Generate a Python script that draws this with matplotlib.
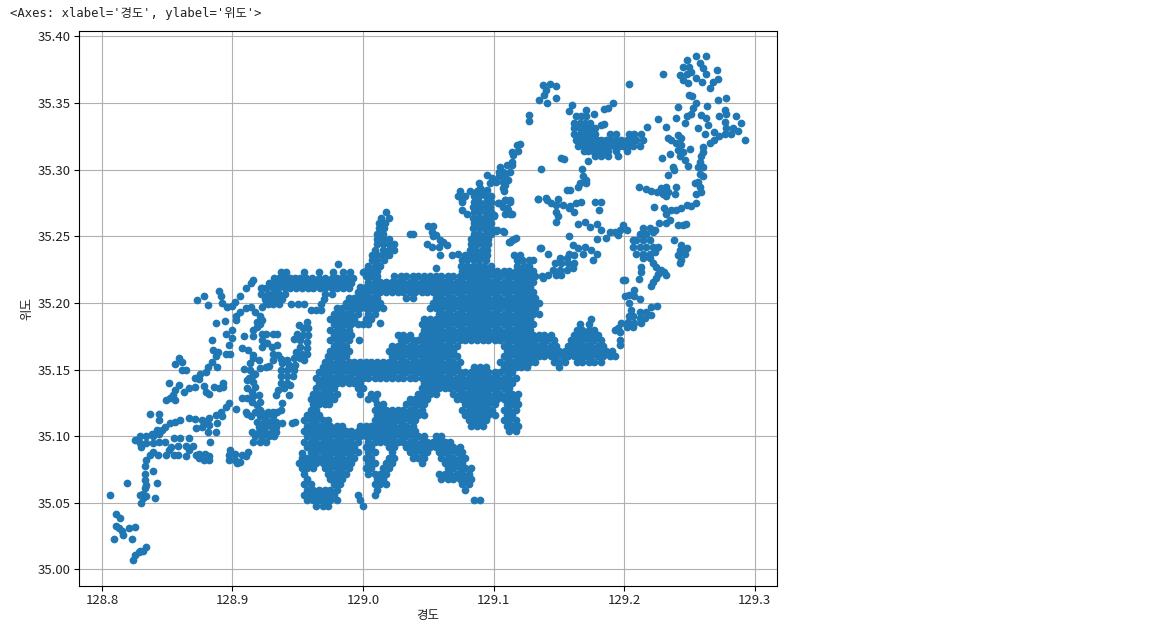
import matplotlib
matplotlib.use("Agg")
import matplotlib.pyplot as plt

# longitudes are thousandths of a degree above 128, latitudes thousandths above 35
main_lat = [284, 280, 276, 272, 268, 264, 260, 256, 252, 248, 244, 240, 236, 232, 228, 224, 220, 216, 212, 208]
main_lon = [
    [1074, 1082, 1087, 1092],
    [1073, 1078, 1085, 1089, 1094, 1098],
    [1076, 1085, 1089, 1094, 1098],
    [1084, 1089, 1093, 1097],
    [1018, 1085, 1089, 1094, 1098],
    [1014, 1020, 1084, 1089, 1093, 1097],
    [1012, 1017, 1085, 1089, 1094, 1098],
    [1012, 1016, 1084, 1089, 1093, 1097],
    [1011, 1015, 1085, 1089, 1094, 1098],
    [1011, 1015, 1020, 1083, 1087, 1092, 1096],
    [1011, 1015, 1020, 1024, 1083, 1087, 1092, 1096],
    [1009, 1015, 1020, 1024, 1082, 1086, 1091, 1095],
    [1007, 1011, 1015, 1020, 1078, 1082, 1087, 1091, 1095, 1116, 1120],
    [1007, 1011, 1016, 1076, 1080, 1085, 1089, 1094, 1118, 1122, 1127],
    [1004, 1009, 1013, 1075, 1080, 1084, 1089, 1093, 1098, 1118, 1123, 1127],
    [1002, 1006, 1011, 1076, 1081, 1085, 1090, 1094, 1099, 1103, 1108, 1112, 1117, 1121, 1126, 1130],
    [1002, 1006, 1011, 1024, 1029, 1033, 1038, 1042, 1047, 1051, 1056, 1060, 1065, 1069, 1074, 1078, 1083, 1087, 1092, 1096, 1101, 1105, 1110, 1114, 1119, 1123, 1128, 1132, 1137],
    [1004, 1009, 1013, 1018, 1022, 1027, 1031, 1036, 1040, 1045, 1049, 1054, 1058, 1063, 1067, 1072, 1076, 1081, 1085, 1090, 1094, 1099, 1103, 1108, 1112, 1117, 1121, 1126, 1130],
    [998, 1002, 1006, 1011, 1015, 1020, 1024, 1029, 1033, 1038, 1042, 1047, 1051, 1056, 1060, 1065, 1069, 1074, 1078, 1083, 1087, 1092, 1096, 1101, 1105, 1110, 1114, 1119, 1123, 1128],
    [996, 1000, 1004, 1009, 1013, 1018, 1022, 1027, 1031, 1036, 1040, 1045, 1049, 1054, 1058, 1063, 1067, 1072, 1076, 1081, 1085, 1090, 1094, 1099, 1103, 1108, 1112, 1117, 1121, 1126, 1130],
]

body_lat = [204, 200, 196, 192, 188, 184, 180, 176, 172, 168, 164, 160, 156, 152, 148, 144, 140, 136, 132, 128, 124, 120, 116, 112]
body_lon = [
    [989, 993, 998, 1002, 1006, 1011, 1033, 1038, 1056, 1060, 1065, 1069, 1074, 1078, 1083, 1087, 1092, 1096, 1101, 1105, 1110, 1114, 1119, 1123, 1128, 1132],
    [987, 991, 996, 1000, 1004, 1009, 1013, 1054, 1058, 1063, 1067, 1072, 1076, 1081, 1085, 1090, 1094, 1099, 1103, 1108, 1112, 1117, 1121, 1126, 1130, 1135],
    [980, 984, 989, 993, 998, 1002, 1006, 1011, 1015, 1051, 1056, 1060, 1065, 1069, 1074, 1078, 1083, 1087, 1092, 1096, 1101, 1105, 1110, 1114, 1119, 1123, 1128, 1132],
    [978, 982, 987, 991, 996, 1004, 1009, 1058, 1063, 1067, 1072, 1076, 1081, 1085, 1090, 1094, 1099, 1103, 1108, 1112, 1117, 1121, 1126, 1130, 1135],
    [975, 980, 984, 989, 993, 1002, 1006, 1047, 1051, 1056, 1060, 1065, 1069, 1074, 1078, 1083, 1087, 1092, 1096, 1101, 1105, 1110, 1114, 1119, 1123, 1128],
    [978, 982, 987, 991, 996, 1000, 1004, 1045, 1049, 1054, 1058, 1063, 1067, 1072, 1076, 1081, 1085, 1090, 1094, 1099, 1103, 1108, 1112, 1117, 1121, 1126, 1130],
    [975, 980, 984, 989, 1047, 1051, 1056, 1060, 1065, 1069, 1074, 1078, 1083, 1087, 1092, 1096, 1101, 1105, 1110, 1114, 1119, 1123, 1128],
    [978, 982, 987, 991, 1027, 1031, 1036, 1045, 1049, 1054, 1058, 1063, 1067, 1072, 1076, 1081, 1085, 1090, 1094, 1099, 1103, 1108, 1112, 1117, 1121, 1126, 1130, 1135, 1139, 1144, 1162, 1166, 1171, 1175, 1180],
    [975, 980, 984, 989, 1029, 1033, 1038, 1042, 1047, 1051, 1056, 1060, 1065, 1069, 1074, 1078, 1083, 1087, 1092, 1096, 1101, 1105, 1110, 1114, 1119, 1123, 1128, 1132, 1137, 1141, 1146, 1159, 1164, 1168, 1173, 1177, 1182],
    [978, 982, 987, 1022, 1027, 1031, 1036, 1040, 1045, 1049, 1054, 1058, 1063, 1067, 1072, 1108, 1112, 1117, 1121, 1126, 1130, 1135, 1139, 1144, 1148, 1157, 1162, 1166, 1171, 1175, 1180, 1184],
    [975, 980, 984, 989, 1020, 1024, 1029, 1033, 1038, 1042, 1047, 1051, 1056, 1060, 1065, 1069, 1110, 1114, 1119, 1123, 1128, 1132, 1137, 1141, 1146, 1150, 1155, 1159, 1164, 1168, 1173, 1177, 1182, 1186, 1191],
    [973, 978, 982, 987, 1022, 1027, 1031, 1036, 1040, 1045, 1049, 1054, 1058, 1063, 1067, 1072, 1108, 1112, 1117, 1121, 1126, 1130, 1135, 1139, 1144, 1148, 1153, 1157, 1162, 1166, 1171, 1175, 1180, 1184, 1189, 1193],
    [971, 975, 980, 984, 989, 993, 998, 1002, 1006, 1011, 1015, 1020, 1024, 1029, 1033, 1038, 1042, 1047, 1051, 1056, 1060, 1065, 1069, 1074, 1105, 1110, 1114, 1119, 1123, 1128, 1132, 1146, 1150, 1155, 1164, 1168, 1173, 1177, 1182],
    [969, 973, 978, 982, 987, 991, 996, 1000, 1004, 1009, 1013, 1018, 1022, 1027, 1031, 1036, 1040, 1045, 1049, 1054, 1058, 1063, 1067, 1072, 1085, 1090, 1094, 1108, 1112, 1117, 1121, 1126, 1150],
    [966, 971, 975, 980, 984, 989, 993, 998, 1002, 1006, 1011, 1015, 1020, 1024, 1029, 1033, 1038, 1042, 1047, 1051, 1056, 1060, 1065, 1069, 1074, 1078, 1083, 1087, 1092, 1096, 1101, 1105, 1110, 1114],
    [964, 969, 973, 978, 982, 987, 991, 996, 1000, 1004, 1009, 1013, 1018, 1022, 1027, 1031, 1036, 1040, 1045, 1049, 1054, 1058, 1063, 1067, 1072, 1076, 1081, 1085, 1090, 1094, 1099, 1103, 1108, 1112, 1117],
    [966, 971, 975, 980, 984, 989, 993, 998, 1047, 1051, 1056, 1060, 1065, 1069, 1074, 1078, 1083, 1087, 1092, 1096, 1101, 1105, 1110, 1114],
    [964, 969, 973, 978, 996, 1000, 1045, 1049, 1054, 1058, 1063, 1067, 1072, 1076, 1081, 1085, 1090, 1094, 1099, 1103, 1108, 1112],
    [962, 966, 971, 975, 980, 998, 1006, 1011, 1042, 1047, 1051, 1056, 1069, 1074, 1078, 1083, 1087, 1092, 1096, 1101, 1105, 1110, 1114, 1119],
    [960, 964, 969, 973, 978, 1004, 1009, 1036, 1040, 1045, 1049, 1072, 1076, 1081, 1085, 1090, 1094, 1099, 1103, 1108, 1112, 1117],
    [962, 966, 971, 974, 1011, 1015, 1033, 1038, 1042, 1047, 1078, 1083, 1087, 1092, 1096, 1101, 1110, 1114, 1119],
    [960, 964, 1009, 1013, 1018, 1022, 1027, 1031, 1036, 1040, 1045, 1076, 1081, 1085, 1090, 1094, 1099, 1108, 1112, 1117],
    [957, 962, 966, 1011, 1015, 1020, 1024, 1029, 1033, 1038, 1042, 1047, 1078, 1083, 1087, 1092, 1096, 1101, 1110, 1114],
    [955, 960, 964, 969, 973, 1009, 1013, 1018, 1022, 1027, 1031, 1036, 1040, 1081, 1085, 1090, 1094, 1108, 1112, 1117],
]

south_lat = [108, 104, 100, 96, 92, 88, 84, 80, 76, 72, 68, 64, 60, 56, 52, 48]
south_lon = [
    [957, 962, 966, 971, 975, 980, 984, 998, 1002, 1006, 1011, 1015, 1020, 1024, 1029, 1033, 1038, 1083, 1087, 1092, 1110, 1114, 1119],
    [955, 960, 964, 969, 973, 978, 982, 987, 991, 996, 1000, 1004, 1009, 1013, 1018, 1022, 1027, 1031, 1036, 1040, 1112, 1117],
    [957, 962, 966, 971, 975, 980, 984, 989, 993, 998, 1002, 1006, 1011, 1015, 1020, 1024, 1029, 1033, 1038, 1042, 1047, 1056, 1060],
    [955, 960, 964, 969, 973, 978, 982, 987, 991, 996, 1004, 1009, 1013, 1018, 1022, 1027, 1031, 1036, 1040, 1045, 1049, 1054, 1058, 1063, 1067],
    [957, 962, 966, 971, 975, 980, 984, 989, 993, 1002, 1006, 1020, 1024, 1033, 1038, 1042, 1047, 1051, 1056, 1060, 1065, 1069, 1074],
    [960, 964, 969, 973, 978, 982, 987, 991, 996, 1004, 1009, 1022, 1036, 1040, 1045, 1049, 1058, 1063, 1067, 1072, 1076],
    [953, 957, 962, 966, 971, 975, 980, 984, 989, 993, 1002, 1006, 1020, 1024, 1038, 1042, 1047, 1060, 1065, 1069, 1074, 1078],
    [951, 955, 960, 964, 969, 973, 978, 982, 987, 991, 1004, 1009, 1018, 1022, 1045, 1063, 1067, 1072, 1076],
    [953, 957, 962, 971, 975, 980, 984, 989, 1002, 1006, 1015, 1020, 1065, 1069, 1074, 1078, 1083],
    [955, 973, 978, 982, 987, 1004, 1009, 1013, 1018, 1058, 1063, 1067, 1072, 1076, 1081],
    [957, 975, 980, 984, 1011, 1015, 1060, 1065, 1069, 1074, 1078, 1083],
    [955, 960, 978, 982, 1009, 1013, 1018, 1076, 1081],
    [957, 962, 966, 971, 975, 980, 1011, 1078],
    [955, 960, 964, 969, 973, 978, 996, 1009],
    [957, 962, 966, 971, 975, 980, 998, 1085, 1090],
    [964, 969, 973, 1000],
]

band_lat = [223, 219, 215, 211, 207, 203, 199, 195]
band_lon = [
    [937, 941, 955, 966, 977, 985, 990, 1000],
    [932, 936, 940, 944, 948, 952, 956, 961, 966, 971, 976, 980, 984, 988, 992],
    [928, 933, 937, 942, 946, 951, 955, 960, 964, 969, 973, 978, 982, 987, 991],
    [922, 926, 931, 935, 940, 944, 949, 953, 958, 962, 967, 971, 976, 980, 985, 989],
    [922, 927, 931, 936, 940, 971, 976],
    [925, 930, 934, 938, 970],
    [927, 931, 936, 945, 950, 955, 968],
    [960, 964, 968],
]

sw_points = [(806, 56), (810.5, 42), (814, 39), (811, 33), (813, 31), (815, 28.5), (816, 26), (821, 31.5), (825, 32),
             (809.5, 23), (823, 22.5), (834, 16.5), (831.5, 14), (828, 13), (825, 11), (824, 7), (829, 14),
             (834, 82), (833, 78), (839, 74), (833, 72), (833, 67), (834, 63.5), (819, 65), (842, 65), (833, 61),
             (831.5, 57), (829, 56), (834, 55), (830, 50), (841, 54), (831.5, 53.5)]

west_points = [(837, 117), (844, 117), (844, 112), (838, 102), (842, 105), (846, 105), (848, 107), (852, 110), (856, 111),
               (860, 112), (867, 113.5), (871, 113), (877, 112), (882, 113.5), (887, 116), (891, 118.5), (895, 122),
               (897, 125), (892, 115), (888, 110), (882, 108.5), (877, 107), (881, 103), (887, 103.5), (879, 111),
               (872, 106), (883, 96), (903, 120.5), (825, 97), (829, 100), (834, 100), (839, 100), (844, 102), (829, 95),
               (834, 95), (839, 95), (844, 96), (848, 96), (839, 88), (843, 86), (830, 92), (837, 86), (849, 86),
               (853, 92), (855, 98.5), (860, 98.5), (867, 98.5), (858.5, 93), (864, 93), (870, 93), (855, 86),
               (858.5, 86), (864, 85), (851, 90), (867, 90), (874, 87), (879, 87), (882, 85), (874, 83.5), (878, 82),
               (882, 82), (872, 86), (898, 90), (902, 87), (897, 86), (897, 82), (902, 82), (906, 81), (910, 85),
               (912, 88), (907, 86), (903.5, 80)]

mid_points = [(916, 96), (921, 96), (926, 96), (917, 100), (922.5, 100), (928, 100), (932, 100), (915, 103.5), (920, 103.5),
              (925, 103.5), (930, 103.5), (933, 103.5), (920, 107), (925, 107), (930, 107), (933, 107), (919, 111),
              (924, 111), (929, 111), (933, 111), (921, 115), (926, 115), (931, 115), (917, 118.5), (922, 118.5),
              (927, 118.5), (931, 118.5), (911, 117), (914, 115), (910, 118), (907, 129), (911, 128.5), (915, 126),
              (919, 123.5), (921, 120), (938, 125), (937, 120), (934, 118.5), (938, 110), (945.5, 110), (948, 110.5),
              (911, 142), (916, 141), (917, 137), (911, 136), (915, 133.5), (920, 131), (916, 130), (921, 126),
              (916, 146), (913, 144), (908.5, 150.5), (913.5, 150), (921, 151), (926, 152), (928, 153), (917, 147),
              (920, 157), (913.5, 155), (916, 159), (912, 165), (907, 166), (916, 161), (908.5, 175), (916, 175),
              (919, 182), (922.5, 187), (921, 184), (916, 180), (903, 187), (922.5, 177), (922.5, 172), (922.5, 167),
              (926, 177), (931, 177), (934, 177), (926.5, 170), (930, 167), (934, 168.5), (931, 162), (931, 157), (935, 161),
              (957, 186), (951, 183.5), (954, 181), (958, 181), (949.5, 177), (954, 176), (958, 176), (947, 173), (952, 172),
              (957, 171), (952, 167), (957, 166), (948.5, 163.5), (953.5, 162), (957, 162), (947, 158.5), (952, 158.5),
              (942, 157), (937, 158), (938, 155), (943, 153.5), (948, 153.5), (937, 150), (942, 150), (947, 150), (937, 145),
              (942, 145), (946, 145), (937, 140), (942, 140), (934.5, 135), (939.5, 136), (944, 138.5), (943, 131),
              (933, 131), (954.6, 157), (953, 87.5)]

strand_points = [(895, 177), (894, 186.5), (887, 185), (884, 172), (899.5, 180), (899.5, 173.5), (897, 168.5), (885, 165),
                 (889, 163.5), (895, 162), (898, 162), (887, 160), (884, 156), (881.5, 152), (888, 152), (880, 148.5),
                 (875, 147), (871, 144), (874, 143), (859, 159), (861, 156), (856, 154), (861, 150), (864, 150), (851, 140),
                 (859, 138.5), (856, 135), (854.6, 131), (852, 128.5), (849, 127), (856, 127), (863, 133.5), (867, 136),
                 (871, 137), (878, 138), (880, 133.5), (882, 132), (886, 137), (890, 136), (893, 140), (893, 137),
                 (873, 202), (878, 205), (881, 198.5), (890, 209), (891, 205), (892, 200), (896, 197), (899.5, 198),
                 (902, 201), (906, 205), (910, 211), (914, 215), (916, 217), (922.5, 211), (906, 193.5), (910, 196),
                 (914, 197), (917, 193.5), (922.5, 197), (926, 200), (929, 205), (931.5, 207), (902.5, 190), (921, 190),
                 (919, 186), (981, 229)]

north_points = [(1013, 185), (997, 172), (1036, 251.5), (1038, 252), (1050, 258), (1054, 258), (1052.5, 253.5), (1056, 251),
                (1054, 250), (1059, 247), (1061.5, 246), (1064, 243.5), (1049, 244), (1052.5, 242), (1058, 242), (1059, 236),
                (1068, 236), (1073, 237), (1056, 226.5), (1075.6, 277), (1075.6, 270), (1079.5, 267), (1100, 266), (1100, 255),
                (1102.5, 255), (1107.7, 253.5), (1107.7, 284), (1104, 275), (1109, 277), (1113, 276), (1110, 271), (1113, 267),
                (1113, 246), (1117, 248.5), (1134, 278), (1141, 277), (1136, 241), (1142, 237),
                (1120, 319), (1118, 318.5), (1114, 313.5), (1119, 314), (1115, 311), (1114, 306), (1110, 303.5), (1114, 303.5),
                (1105, 302), (1104, 298.5), (1107, 298.5), (1112.5, 298.5), (1104, 295), (1109, 295), (1102, 291), (1107, 291),
                (1111, 292), (1107, 286), (1109, 288.5), (1095, 296), (1089, 290), (1089.5, 286), (1097, 290), (1095, 285),
                (1098.5, 293.5), (1103.6, 275), (1109, 277), (1112.5, 277), (1107.4, 272), (1111, 270), (1114, 267),
                (1108.7, 267), (1100, 265.5), (1102, 254), (1107, 254), (1114, 247), (1116, 248), (1112, 246),
                (1138, 363.5), (1143, 364), (1148, 363), (1140.5, 360), (1138.5, 356), (1135, 352), (1141, 350), (1148, 353.5),
                (1127, 341), (1127, 336.5), (1204, 364), (1230, 372)]

ridge_points = [(1160.5, 348.5), (1158, 344), (1171, 345), (1177, 342), (1185, 345.5), (1191.6, 350), (1188, 346), (1185, 334),
                (1182.6, 333.5), (1163.5, 340), (1167, 340), (1171, 340), (1162, 335), (1166, 335), (1170, 335), (1174, 335),
                (1162, 331), (1166, 331), (1170, 331), (1174, 331), (1177.5, 331), (1162, 327), (1166, 327), (1170, 327),
                (1174, 327), (1177.5, 327), (1189, 327), (1194, 327), (1204, 327), (1208, 327), (1213, 327),
                (1163.5, 322), (1167, 322), (1171, 322), (1175, 322), (1179, 322), (1182.5, 322), (1186.5, 322), (1190, 322),
                (1194, 322), (1198, 322), (1202, 322), (1205.6, 322), (1209, 322), (1214.5, 322),
                (1165, 318), (1169, 318), (1173, 318), (1176.6, 318), (1180.4, 318), (1184.2, 318), (1188, 318), (1192, 318),
                (1196, 318), (1199.5, 318), (1203, 318), (1207, 318), (1212, 318),
                (1169, 314), (1172.5, 314), (1176, 314), (1180, 314), (1184, 314), (1188, 314), (1194, 314), (1202, 314),
                (1177.5, 310), (1182.6, 310), (1188, 310), (1195, 310), (1217.6, 332), (1226, 338), (1232, 332),
                (1154, 308), (1152, 308.5), (1172.5, 306.5), (1168, 300.5), (1136, 300.5), (1168.6, 295), (1171, 292), (1166, 290),
                (1165, 287), (1156, 285), (1158.4, 285), (1171, 290), (1133.7, 278), (1140, 278.5), (1144, 275), (1149.5, 278),
                (1148, 273.5), (1153, 273.5), (1158.4, 273), (1163.5, 275), (1167, 275.5), (1162, 268.5), (1158, 271), (1148, 268.5),
                (1149.5, 265.5), (1147.5, 261), (1178, 276), (1182, 276), (1180.6, 270), (1165, 259), (1170.4, 261), (1174, 257),
                (1179, 259), (1182.6, 255), (1158, 250.5), (1179, 248), (1186.5, 248.5), (1189, 253), (1193, 253.5), (1197, 255),
                (1199, 258.5), (1202, 255), (1195, 251)]

east_points = [(1135.7, 241), (1161, 243.5), (1165, 241), (1170, 242), (1175, 240), (1179, 237), (1176, 232), (1168.6, 237),
               (1158, 237), (1162, 236), (1151, 233.5), (1156, 233.5), (1147, 230), (1152, 230), (1157, 230), (1162, 230),
               (1145.7, 225), (1151, 225), (1156, 225), (1161, 226), (1148, 221), (1152, 221), (1138, 219), (1142, 221),
               (1199, 217), (1201, 217.5), (1211.5, 218), (1213, 227), (1213, 223.5), (1209.4, 247), (1214.5, 247), (1219.6, 247),
               (1207, 242), (1212, 242), (1217, 242), (1222, 242), (1226, 242), (1209.4, 237), (1214.5, 237), (1219.6, 237),
               (1223.5, 238.5), (1214.5, 233.5), (1219.6, 233.5), (1222, 230), (1224.7, 227), (1228.6, 225), (1226, 222),
               (1231, 223.5), (1232.4, 221), (1224.7, 218.5), (1222, 216), (1221, 213), (1214.5, 256), (1219.6, 256),
               (1223.5, 255), (1212, 252), (1217, 252), (1222, 253.5), (1207, 247), (1227, 260), (1232, 267), (1235, 262),
               (1232, 260), (1236, 270), (1231, 271), (1240, 270), (1244, 271), (1248, 273.5), (1251.5, 273), (1255, 275),
               (1241, 258.5), (1245, 258.5), (1247.7, 259), (1222.7, 272), (1238.5, 247), (1244, 243.5), (1248, 241), (1243, 240),
               (1246.7, 237), (1241, 236), (1244, 232), (1242.6, 230), (1207.4, 210), (1204, 206), (1200.5, 205.5), (1208, 205),
               (1212, 203), (1204, 200), (1205.6, 195), (1225, 198), (1221, 197), (1217, 193.5), (1212, 193.5), (1221, 191),
               (1207, 190), (1212, 188.5), (1216, 188.5), (1203, 186), (1208, 185), (1213, 185), (1198, 185), (1202, 182),
               (1207, 182), (1195.4, 181), (1193, 180), (1197, 178.5), (1197, 172.5), (1197, 168.5), (1173, 184), (1166, 184), (1175, 188),
               (1164, 180), (1168, 180), (1173, 180), (1177, 180), (1204, 190), (1130, 232), (1122, 232)]

ne_points = [(1248, 382), (1245, 377), (1250, 377), (1255, 385), (1262.5, 385), (1258, 380), (1260.5, 376), (1271, 375), (1263, 372),
             (1242.6, 371), (1248, 372), (1251.5, 373.5), (1245, 367), (1249, 365), (1255, 368.5), (1259.7, 366), (1272, 368),
             (1268, 366), (1266, 361), (1250, 356), (1252, 355), (1272, 352), (1278, 353.5), (1255, 350), (1252.8, 346), (1251.5, 342),
             (1248, 340), (1246.4, 335), (1263.5, 348), (1241, 347), (1240, 339), (1259, 341), (1263, 338.5), (1264, 333.5),
             (1256.6, 331), (1262, 327), (1269, 328.5), (1277, 345), (1278.4, 342), (1273, 340), (1277, 336), (1286, 340), (1290, 335),
             (1283.4, 331), (1278.4, 331), (1287, 329), (1282, 327), (1277, 327), (1273, 325), (1269, 322), (1265.6, 320), (1260.5, 317),
             (1292.3, 322), (1260.5, 313.5), (1259, 310), (1258, 306), (1256.6, 302), (1260.5, 302), (1258, 297), (1260.5, 295),
             (1256.6, 291), (1254, 290), (1258, 287), (1255.4, 282), (1259, 283.5), (1233.7, 323.5), (1236, 322), (1241, 326),
             (1244, 323.5), (1240, 320), (1244, 318.5), (1235, 312), (1241, 315), (1245, 313.5), (1250.8, 315.5), (1229, 309),
             (1242.6, 310), (1246.4, 307), (1249, 303), (1237.5, 302), (1238, 300), (1233.7, 296), (1211.5, 287), (1217, 285.5),
             (1221, 284), (1225, 283.5), (1228.6, 286), (1232.4, 287), (1230, 282), (1233.7, 283.5), (1232.4, 280), (1240, 287), (1239, 282)]

xticks = [128.8, 128.9, 129.0, 129.1, 129.2, 129.3]
yticks = [35.00, 35.05, 35.10, 35.15, 35.20, 35.25, 35.30, 35.35, 35.40]

lon = []
lat = []
for lats, rows in [(main_lat, main_lon), (body_lat, body_lon), (south_lat, south_lon), (band_lat, band_lon)]:
    for t, row in zip(lats, rows):
        for k in row:
            lon.append(128 + k / 1000)
            lat.append(35 + t / 1000)
for pts in [sw_points, west_points, mid_points, strand_points, north_points, ridge_points, east_points, ne_points]:
    for k, t in pts:
        lon.append(128 + k / 1000)
        lat.append(35 + t / 1000)

plt.rcParams["font.family"] = ["Noto Sans CJK KR", "DejaVu Sans"]

fig = plt.figure(figsize=(11.63, 6.35), dpi=100)
ax = fig.add_axes([79 / 1163, 1 - 586 / 635, 698 / 1163, 555 / 635])
dots = ax.scatter(lon, lat, s=31, color="#1f77b4", linewidths=0)
dots.set_snap(False)
ax.set_xlim(128.7824, 129.3172)
ax.set_ylim(34.9876, 35.4041)
ax.set_xticks(xticks)
ax.set_xticklabels([f"{v:.1f}" for v in xticks])
ax.set_yticks(yticks)
ax.set_yticklabels([f"{v:.2f}" for v in yticks])
ax.tick_params(labelsize=9.5, length=3.5, pad=2.5, labelcolor="#222222")
ax.set_xlabel("경도", fontsize=9, labelpad=1.5)
ax.set_ylabel("위도", fontsize=9, labelpad=3, color="#222222")
ax.xaxis.label.set_color("#222222")
ax.grid(True)
ax.set_axisbelow(True)

fig.text(10 / 1163, 1 - 13 / 635, "<Axes: xlabel='경도', ylabel='위도'>", fontsize=8.85,
         family=["DejaVu Sans Mono", "Noto Sans CJK KR"], va="center", color="#222222")

fig.savefig("out.png", dpi=100)
